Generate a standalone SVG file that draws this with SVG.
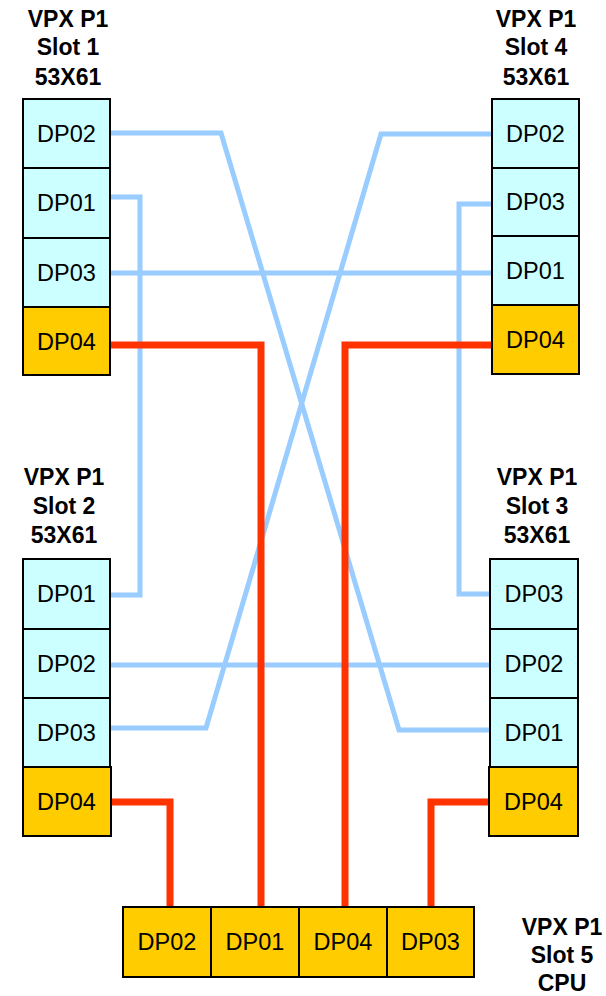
<svg xmlns="http://www.w3.org/2000/svg" width="606" height="996" viewBox="0 0 606 996">
<style>
.bg{fill:#ffffff}
.c{fill:#CCFFFF;stroke:#000;stroke-width:2}
.y{fill:#FFCC00;stroke:#000;stroke-width:2}
.t{font-family:"Liberation Sans",Arial,sans-serif;font-size:23.5px;fill:#000;text-anchor:middle}
.h{font-family:"Liberation Sans",Arial,sans-serif;font-size:23px;font-weight:bold;fill:#000;text-anchor:middle}
.b{fill:none;stroke:#99CCFF;stroke-width:5}
.r{fill:none;stroke:#FF3300;stroke-width:7}
</style>
<rect class="bg" x="0" y="0" width="606" height="996"/>
<g id="connectors">
  <path class="b" d="M110,133 H221 L399,730 H490"/>
  <path class="b" d="M492,134 H381 L206,728 H110"/>
  <path class="b" d="M110,197 H140 V595 H110"/>
  <path class="b" d="M110,273 H492"/>
  <path class="b" d="M492,204 H459 V594 H490"/>
  <path class="b" d="M110,665 H490"/>
  <path class="r" d="M110,345 H261 V907"/>
  <path class="r" d="M492,345 H345 V907"/>
  <path class="r" d="M110,802 H170 V907"/>
  <path class="r" d="M490,802 H431 V907"/>
</g>
<g id="slot1">
  <text class="h" x="68" y="27">VPX P1</text>
  <text class="h" x="68" y="55">Slot 1</text>
  <text class="h" x="68" y="85">53X61</text>
  <rect class="c" x="23" y="99" width="87" height="69"/>
  <text class="t" x="66.5" y="142">DP02</text>
  <rect class="c" x="23" y="168" width="87" height="70"/>
  <text class="t" x="66.5" y="211">DP01</text>
  <rect class="c" x="23" y="238" width="87" height="69"/>
  <text class="t" x="66.5" y="281">DP03</text>
  <rect class="y" x="23" y="307" width="87" height="68"/>
  <text class="t" x="66.5" y="350">DP04</text>
</g>
<g id="slot4">
  <text class="h" x="536" y="27">VPX P1</text>
  <text class="h" x="536" y="55">Slot 4</text>
  <text class="h" x="536" y="85">53X61</text>
  <rect class="c" x="492" y="99" width="87" height="69"/>
  <text class="t" x="535.5" y="142">DP02</text>
  <rect class="c" x="492" y="168" width="87" height="68"/>
  <text class="t" x="535.5" y="210">DP03</text>
  <rect class="c" x="492" y="236" width="87" height="69"/>
  <text class="t" x="535.5" y="279">DP01</text>
  <rect class="y" x="492" y="305" width="87" height="69"/>
  <text class="t" x="535.5" y="348">DP04</text>
</g>
<g id="slot2">
  <text class="h" x="64" y="485">VPX P1</text>
  <text class="h" x="64" y="514">Slot 2</text>
  <text class="h" x="64" y="543">53X61</text>
  <rect class="c" x="23" y="559" width="87" height="70"/>
  <text class="t" x="66.5" y="602">DP01</text>
  <rect class="c" x="23" y="629" width="87" height="69"/>
  <text class="t" x="66.5" y="672">DP02</text>
  <rect class="c" x="23" y="698" width="87" height="69"/>
  <text class="t" x="66.5" y="741">DP03</text>
  <rect class="y" x="23" y="767" width="88" height="69"/>
  <text class="t" x="66.5" y="810">DP04</text>
</g>
<g id="slot3">
  <text class="h" x="537" y="485">VPX P1</text>
  <text class="h" x="537" y="514">Slot 3</text>
  <text class="h" x="537" y="543">53X61</text>
  <rect class="c" x="490" y="559" width="88" height="70"/>
  <text class="t" x="534" y="602">DP03</text>
  <rect class="c" x="490" y="629" width="88" height="69"/>
  <text class="t" x="534" y="672">DP02</text>
  <rect class="c" x="490" y="698" width="88" height="69"/>
  <text class="t" x="534" y="741">DP01</text>
  <rect class="y" x="489" y="767" width="89" height="69"/>
  <text class="t" x="533.5" y="810">DP04</text>
</g>
<g id="slot5">
  <rect class="y" x="123" y="907" width="88" height="70"/>
  <text class="t" x="167" y="950">DP02</text>
  <rect class="y" x="211" y="907" width="88" height="70"/>
  <text class="t" x="255" y="950">DP01</text>
  <rect class="y" x="299" y="907" width="88" height="70"/>
  <text class="t" x="343" y="950">DP04</text>
  <rect class="y" x="387" y="907" width="87" height="70"/>
  <text class="t" x="430.5" y="950">DP03</text>
  <text class="h" x="562" y="935">VPX P1</text>
  <text class="h" x="562" y="963">Slot 5</text>
  <text class="h" x="562" y="991">CPU</text>
</g>
</svg>
